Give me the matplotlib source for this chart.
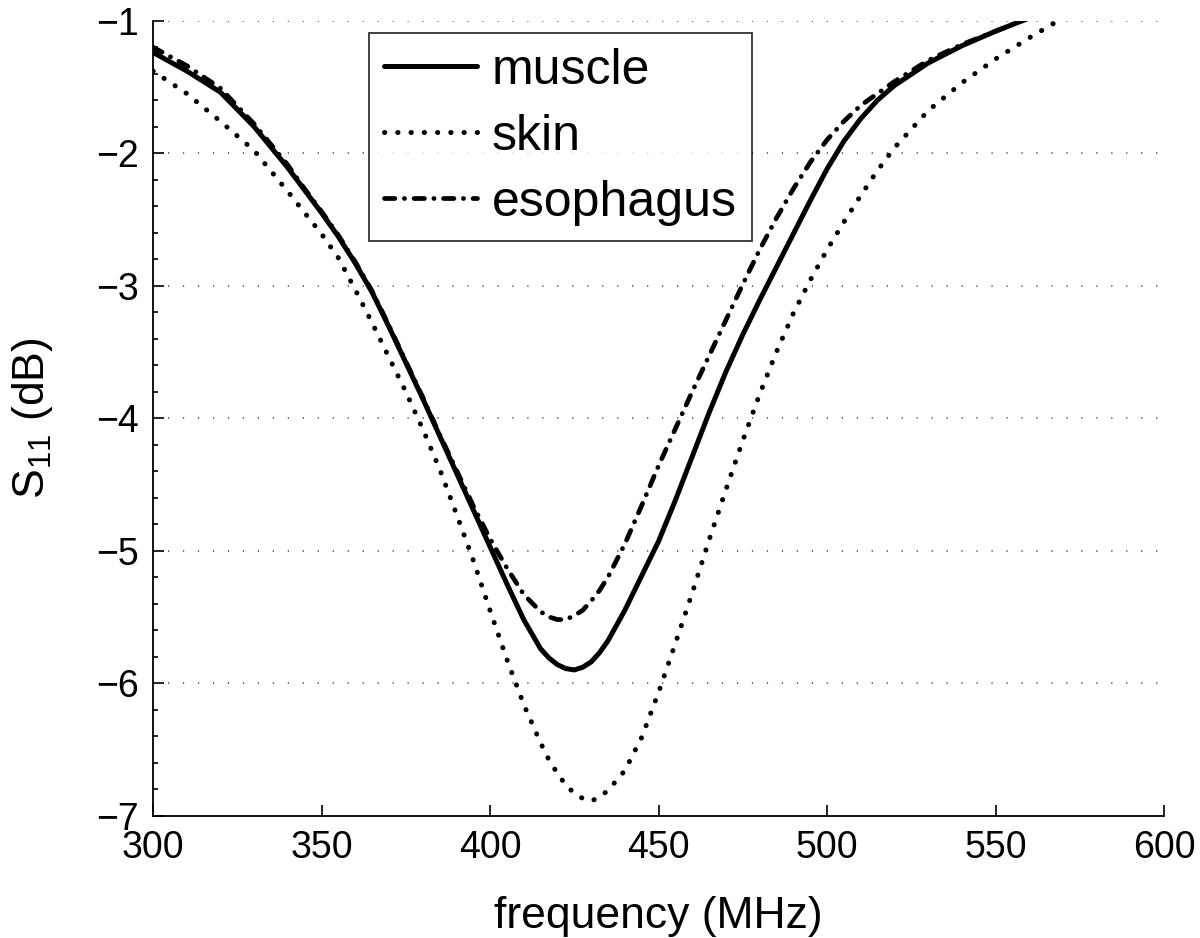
import matplotlib
matplotlib.use("Agg")
import matplotlib.pyplot as plt
from matplotlib.ticker import MultipleLocator

plt.rcParams['font.family'] = ['Liberation Sans', 'DejaVu Sans']
plt.rcParams['mathtext.fontset'] = 'custom'
plt.rcParams['mathtext.rm'] = 'Liberation Sans'
plt.rcParams['mathtext.it'] = 'Liberation Sans'

# values (MHz, dB)
freq = [300, 310, 320, 330,
        340, 345, 350, 355, 360, 365, 370, 375, 380, 385, 390, 395, 400, 405,
        410, 415, 417.5, 420, 422.5, 425, 427.5, 430, 432.5, 435, 440, 445,
        450, 455, 460, 465, 470, 475, 480, 485, 490, 495, 500, 505, 510, 515,
        520, 530, 540, 550, 560, 570, 580]

muscle = [-1.24, -1.38, -1.54, -1.80,
          -2.11, -2.28, -2.45, -2.63, -2.83, -3.05, -3.31, -3.58, -3.85, -4.13,
          -4.41, -4.69, -4.97, -5.25, -5.52, -5.74, -5.81, -5.86, -5.89, -5.90,
          -5.88, -5.84, -5.77, -5.68, -5.45, -5.19,
          -4.93, -4.62, -4.29, -3.96, -3.65, -3.37, -3.11, -2.86, -2.61, -2.36,
          -2.12, -1.91, -1.74, -1.60, -1.49, -1.32, -1.19, -1.08, -0.98, -0.90,
          -0.83]

skin = [-1.38, -1.55, -1.76, -1.98,
        -2.29, -2.45, -2.61, -2.79, -3.03, -3.28, -3.54, -3.80, -4.08, -4.38,
        -4.72, -5.07, -5.45, -5.82, -6.16, -6.45, -6.58, -6.68, -6.77, -6.83,
        -6.87, -6.89, -6.86, -6.81, -6.66, -6.41,
        -6.07, -5.70, -5.32, -4.92, -4.54, -4.17, -3.82, -3.50, -3.21, -2.96,
        -2.73, -2.52, -2.32, -2.13, -1.96, -1.68, -1.47, -1.29, -1.13, -0.98,
        -0.87]

esophagus = [-1.20, -1.34, -1.51, -1.78,
             -2.09, -2.27, -2.44, -2.62, -2.82, -3.04, -3.30, -3.57, -3.84, -4.12,
             -4.39, -4.66, -4.91, -5.13, -5.33, -5.46, -5.50, -5.52, -5.52, -5.49,
             -5.45, -5.38, -5.30, -5.20, -4.95, -4.66,
             -4.36, -4.08, -3.80, -3.53, -3.26, -2.99, -2.73, -2.49, -2.27, -2.07,
             -1.90, -1.76, -1.64, -1.55, -1.46, -1.30, -1.18, -1.08, -0.98, -0.89,
             -0.81]

fig = plt.figure(figsize=(12, 9.38), dpi=100)
ax = fig.add_axes([0.1275, 0.1304, 0.8425, 0.8476])

ax.plot(freq, muscle, color='k', lw=3.6, solid_capstyle='round',
        solid_joinstyle='round', label='muscle')
ax.plot(freq, skin, color='k', lw=3.6, linestyle=(0, (0.05, 2.6)),
        dash_capstyle='round', label='skin')
ax.plot(freq, esophagus, color='k', lw=3.4, linestyle=(0, (2.2, 2.0, 0.05, 2.0)),
        dash_capstyle='round', label='esophagus')

ax.set_xlim(300, 600)
ax.set_ylim(-7, -1)
ax.set_xticks(range(300, 601, 50))
ax.set_yticks(range(-7, 0))
ax.yaxis.set_minor_locator(MultipleLocator(0.2))

for side in ['top', 'right']:
    ax.spines[side].set_visible(False)
for side in ['left', 'bottom']:
    ax.spines[side].set_linewidth(1.3)

ax.tick_params(axis='both', which='major', direction='in', length=8, width=1.2,
               labelsize=27, pad=10)
ax.tick_params(axis='y', which='minor', direction='in', length=3.5, width=1.2)
ax.yaxis.grid(True, which='major', color='0.25', linestyle=(0, (0.8, 9)), lw=1.1)

ax.set_xlabel('frequency (MHz)', fontsize=32, labelpad=22)
ax.set_ylabel(r'S$_{11}$ (dB)', fontsize=32, labelpad=30)

leg = ax.legend(loc='upper left', bbox_to_anchor=(0.214, 0.985), fontsize=36,
                frameon=True, fancybox=False, handlelength=1.85, handletextpad=0.3,
                labelspacing=0.4, borderpad=0.3, borderaxespad=0)
leg.get_frame().set_edgecolor('k')
leg.get_frame().set_linewidth(1.3)

fig.savefig('out.png', dpi=100)
